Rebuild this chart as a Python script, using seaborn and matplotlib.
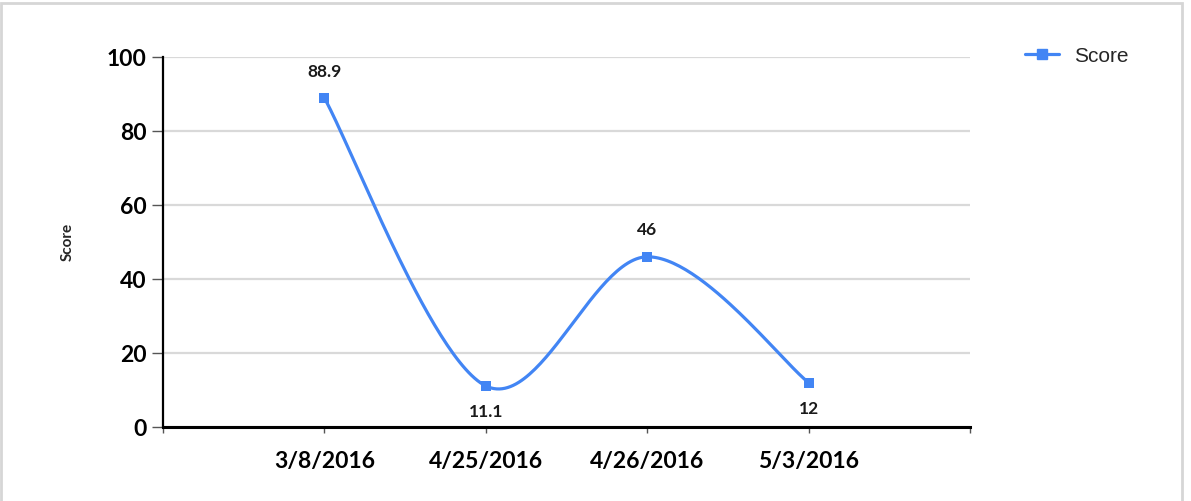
import numpy as np
import pandas as pd
import matplotlib
matplotlib.use("Agg")
import matplotlib.pyplot as plt
from matplotlib.lines import Line2D
from matplotlib.patches import Rectangle
import seaborn as sns

# ---- data ----
dates = ["3/8/2016", "4/25/2016", "4/26/2016", "5/3/2016"]
scores = [88.9, 11.1, 46, 12]
label_text = ["88.9", "11.1", "46", "12"]
label_above = [True, False, True, False]
yticks = [0, 20, 40, 60, 80, 100]

sns.set_theme(style="white")
plt.rcParams['font.family'] = ['Lato', 'DejaVu Sans']

BLUE = "#4285F4"

fig = plt.figure(figsize=(11.91, 5.01), dpi=100)
ax = fig.add_axes([163/1191, 1-427/501, (970-163)/1191, (427-57)/501])

xpos = np.arange(1, len(dates) + 1, dtype=float)
yv = np.array(scores, dtype=float)

# Catmull-Rom smoothing for rendering the curve through the data points
def catmull(x, y, n=60):
    px = np.concatenate([[x[0]], x, [x[-1]]])
    py = np.concatenate([[y[0]], y, [y[-1]]])
    xs, ys = [], []
    for i in range(1, len(px) - 2):
        x0, x1, x2, x3 = px[i-1:i+3]
        y0, y1, y2, y3 = py[i-1:i+3]
        mx1, mx2 = (x2 - x0) / 2, (x3 - x1) / 2
        my1, my2 = (y2 - y0) / 2, (y3 - y1) / 2
        t = np.linspace(0, 1, n)
        h00 = 2*t**3 - 3*t**2 + 1
        h10 = t**3 - 2*t**2 + t
        h01 = -2*t**3 + 3*t**2
        h11 = t**3 - t**2
        xs.append(h00*x1 + h10*mx1 + h01*x2 + h11*mx2)
        ys.append(h00*y1 + h10*my1 + h01*y2 + h11*my2)
    return np.concatenate(xs), np.concatenate(ys)

cx, cy = catmull(xpos, yv)
curve = pd.DataFrame({"x": cx, "y": cy})
pts = pd.DataFrame({"x": xpos, "Score": yv})

sns.lineplot(data=curve, x="x", y="y", sort=False, color=BLUE, linewidth=2.3, ax=ax, zorder=3)
sns.scatterplot(data=pts, x="x", y="Score", marker="s", s=60, color=BLUE, edgecolor=BLUE,
                linewidth=0, ax=ax, zorder=4)

for x, y, t, above in zip(xpos, yv, label_text, label_above):
    ax.annotate(t, (x, y), xytext=(0, 19 if above else -19), textcoords="offset points",
                ha="center", va="center", fontsize=12.5, fontweight="bold", color="#1a1a1a")

ax.set_xlim(0, len(dates) + 1)
ax.set_ylim(0, 100)
ax.set_xticks(np.arange(0, len(dates) + 2))
ax.set_xticklabels([""] + dates + [""], fontsize=16.5, fontweight="bold")
ax.set_yticks(yticks)
ax.set_yticklabels([str(v) for v in yticks], fontsize=16.5, fontweight="bold")
ax.set_xlabel("")
ax.set_ylabel("Score", fontsize=11, fontweight="bold")
ax.yaxis.set_label_coords(-0.11, 0.5)

ax.grid(axis="y", color="#d9d9d9", linewidth=1.6)
ax.grid(axis="x", visible=False)
ax.set_axisbelow(True)

for s in ["top", "right"]:
    ax.spines[s].set_visible(False)
ax.spines["left"].set_color("black")
ax.spines["left"].set_linewidth(1.6)
ax.spines["bottom"].set_color("black")
ax.spines["bottom"].set_linewidth(2.2)
ax.spines["left"].set_zorder(5)
ax.spines["bottom"].set_zorder(5)

ax.tick_params(axis="y", which="major", length=8, width=1, color="#555555", pad=4, left=True)
ax.tick_params(axis="x", which="major", length=4, width=1, color="#555555", pad=13, bottom=True)
for lab in ax.get_yticklabels() + ax.get_xticklabels():
    lab.set_color("black")

handle = Line2D([0], [0], color=BLUE, linewidth=2.3, marker="s", markersize=6.5)
fig.legend([handle], ["Score"], loc="center left", bbox_to_anchor=(1006/1191, 1-56/501),
           frameon=False, handlelength=1.65, handletextpad=0.7,
           prop={"family": ["Liberation Sans"], "size": 15})

fig.patches.append(Rectangle((1/1191, -0.02), 1181/1191, 1.02 - 3/501, transform=fig.transFigure,
                             fill=False, edgecolor="#d6d6d6", linewidth=2.0))

fig.savefig("out.png", dpi=100, facecolor="white")
